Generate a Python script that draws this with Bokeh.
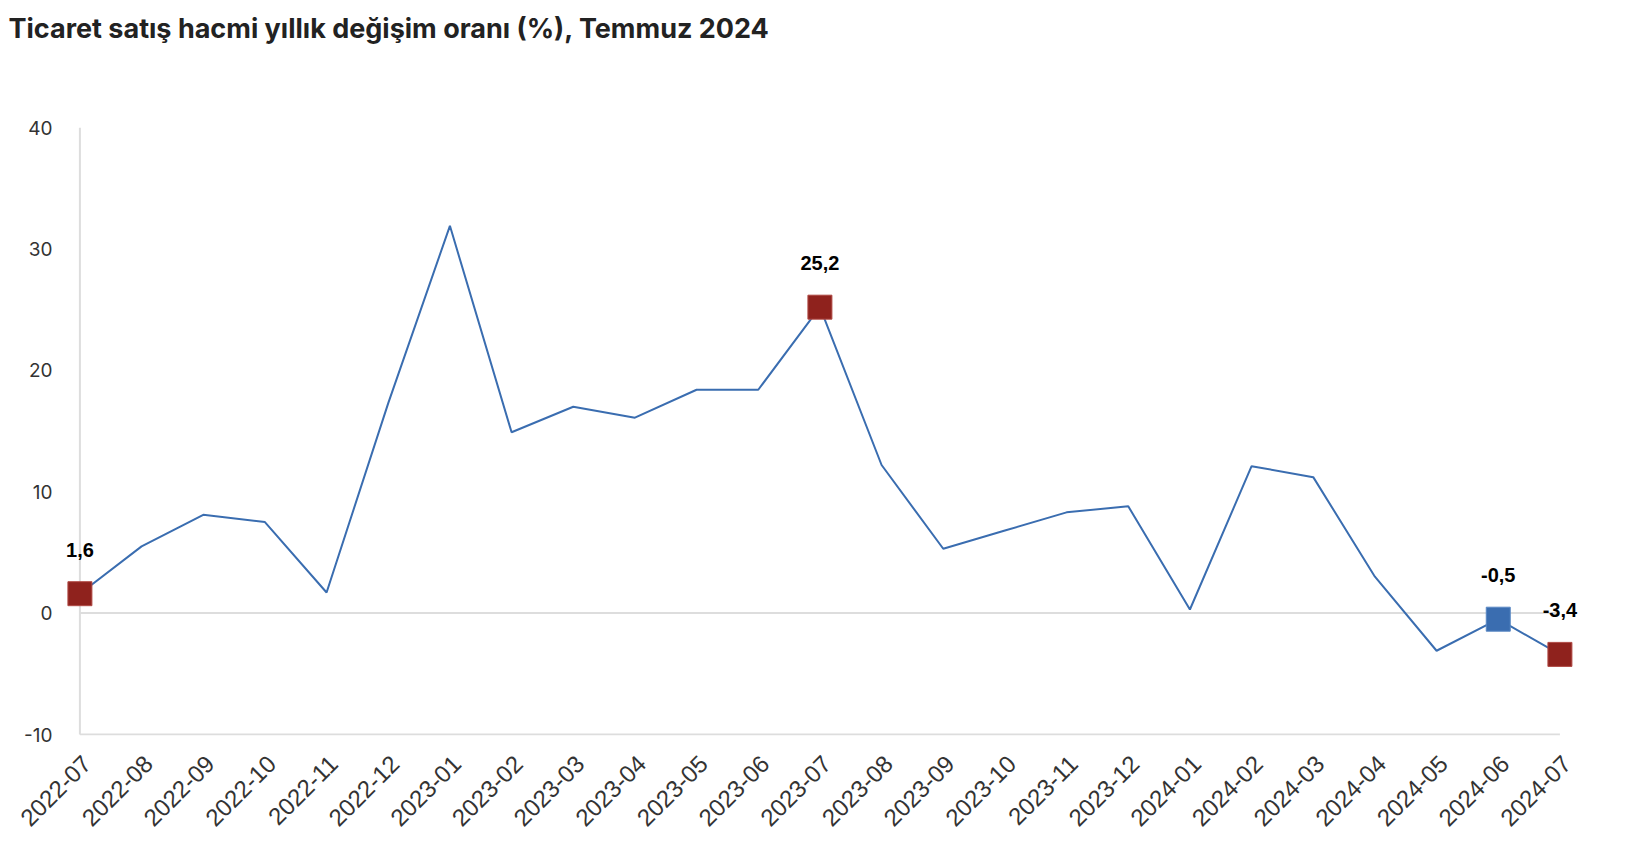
from bokeh.plotting import figure
from bokeh.models import Range1d, FixedTicker, ColumnDataSource, Title
from bokeh.core.properties import value
from bokeh.embed import file_html
from bokeh.resources import INLINE
import math

months = ["2022-07", "2022-08", "2022-09", "2022-10", "2022-11", "2022-12",
          "2023-01", "2023-02", "2023-03", "2023-04", "2023-05", "2023-06",
          "2023-07", "2023-08", "2023-09", "2023-10", "2023-11", "2023-12",
          "2024-01", "2024-02", "2024-03", "2024-04", "2024-05", "2024-06",
          "2024-07"]
values = [1.6, 5.5, 8.1, 7.5, 1.7, 17.3,
          31.9, 14.9, 17.0, 16.1, 18.4, 18.4,
          25.2, 12.2, 5.3, 6.8, 8.3, 8.8,
          0.3, 12.1, 11.2, 3.0, -3.1, -0.5,
          -3.4]
red_months = ["2022-07", "2023-07", "2024-07"]
blue_months = ["2024-06"]
y_ticks = [-10, 0, 10, 20, 30, 40]

title_text = "Ticaret satış hacmi yıllık değişim oranı (%), Temmuz 2024"

xs = list(range(len(months)))

p = figure(width=1610, height=840, output_backend="svg", toolbar_location=None,
           x_range=Range1d(-0.25, len(months) - 1 + 0.35),
           y_range=Range1d(-10.08, 40),
           min_border_left=64, min_border_right=29,
           min_border_top=127, min_border_bottom=105,
           title=title_text)
p.outline_line_color = None
p.background_fill_color = "white"
p.border_fill_color = "white"
p.grid.visible = False

p.title.text_font = "Inter"
p.title.text_font_size = "27px"
p.title.text_font_style = "bold"
p.title.text_color = "#222222"
p.title.align = "left"
p.title.offset = -56
p.title.standoff = 10

# empty spacer between the title and the plot frame
p.add_layout(Title(text=" ", text_font_size="16px", standoff=59), "above")

# axes
p.yaxis.ticker = FixedTicker(ticks=y_ticks)
p.yaxis.major_label_overrides = {t: str(t) for t in y_ticks}
p.yaxis.axis_line_color = None
p.yaxis.major_tick_line_color = None
p.yaxis.minor_tick_line_color = None
p.yaxis.major_label_standoff = 6
p.yaxis.major_label_text_font = "Inter"
p.yaxis.major_label_text_font_size = "19px"
p.yaxis.major_label_text_color = "#333333"

# rotated labels sit slightly right of each month position, as in the original
label_shift = 0.11
x_tick_pos = [i + label_shift for i in xs]
p.xaxis.ticker = FixedTicker(ticks=x_tick_pos)
p.xaxis.major_label_overrides = {t: m for t, m in zip(x_tick_pos, months)}
p.xaxis.major_label_orientation = math.pi / 4
p.xaxis.axis_line_color = None
p.xaxis.major_tick_line_color = None
p.xaxis.minor_tick_line_color = None
p.xaxis.major_label_standoff = 18
p.xaxis.major_label_text_font = "Liberation Sans"
p.xaxis.major_label_text_font_size = "24px"
p.xaxis.major_label_text_color = "#333333"

# frame lines
x0, x1 = xs[0], xs[-1]
p.segment(x0=[x0, x0, x0], y0=[y_ticks[0], y_ticks[0], 0],
          x1=[x0, x1, x1], y1=[y_ticks[-1], y_ticks[0], 0],
          line_color="#dddddd", line_width=2)

# series
p.line(xs, values, line_color="#3a6db0", line_width=2)

def pick(sel):
    ix = [months.index(m) for m in sel]
    return ColumnDataSource(dict(x=ix, y=[values[i] for i in ix],
                                 t=[("%.1f" % values[i]).replace(".", ",") for i in ix]))

red_src = pick(red_months)
blue_src = pick(blue_months)
p.scatter("x", "y", source=red_src, marker="square", size=24,
          fill_color="#8f221d", line_color="#b04a45", line_width=1)
p.scatter("x", "y", source=blue_src, marker="square", size=24,
          fill_color="#3a6db0", line_color="#5a88c4", line_width=1)

for src in (red_src, blue_src):
    p.text("x", "y", text="t", source=src, y_offset=-44,
           text_align="center", text_baseline="middle",
           text_font=value("Liberation Sans"), text_font_style="bold",
           text_font_size="20px", text_color="#000000")

open("out.html", "w").write(file_html(p, INLINE))
